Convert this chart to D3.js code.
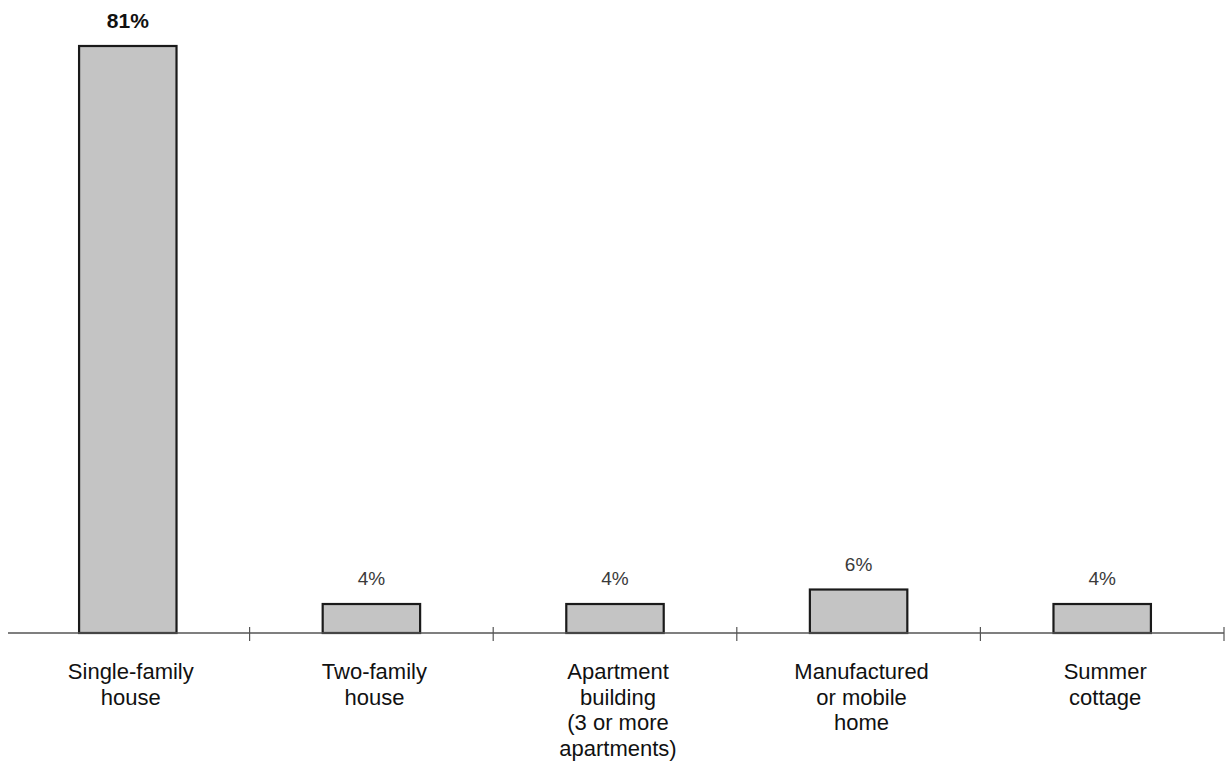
<!DOCTYPE html>
<html>
<head>
<meta charset="utf-8">
<script src="https://cdn.jsdelivr.net/npm/d3@7"></script>
<style>
  body { margin: 0; background: #fff; }
  svg { display: block; font-family: "Liberation Sans", Arial, sans-serif; }
</style>
</head>
<body>
<svg id="chart" width="1226" height="776"></svg>
<script>
let categories = [
    ["Single-family", "house"],
    ["Two-family", "house"],
    ["Apartment", "building", "(3 or more", "apartments)"],
    ["Manufactured", "or mobile", "home"],
    ["Summer", "cottage"]
];
let values = [81, 4, 4, 6, 4];
let value_labels = ["81%", "4%", "4%", "6%", "4%"];

let svg = d3.select("#chart");
let axis_y = 633;

let x = d3.scaleBand()
    .domain(d3.range(categories.length))
    .range([6, 1224])
    .paddingInner(0.6)
    .paddingOuter(0.3);

let y = d3.scaleLinear()
    .domain([0, 81])
    .range([axis_y, 46]);

let step = x.step();

// bars
svg.selectAll(".bar")
    .data(values)
    .enter().append("rect")
        .attr("class", "bar")
        .attr("x", (d, i) => x(i))
        .attr("y", d => y(d))
        .attr("width", x.bandwidth())
        .attr("height", d => y(0) - y(d))
        .attr("fill", "#c4c4c4")
        .attr("stroke", "#1a1a1a")
        .attr("stroke-width", 2.2);

// axis line, ticks sit on the category boundaries
svg.append("line")
    .attr("x1", 8).attr("x2", 1224)
    .attr("y1", axis_y).attr("y2", axis_y)
    .attr("stroke", "#555")
    .attr("stroke-width", 1.5);

svg.selectAll(".tick")
    .data(d3.range(1, categories.length + 1))
    .enter().append("line")
        .attr("class", "tick")
        .attr("x1", d => 6 + d * step)
        .attr("x2", d => 6 + d * step)
        .attr("y1", axis_y - 6)
        .attr("y2", axis_y + 8)
        .attr("stroke", "#555")
        .attr("stroke-width", 1.2);

// value labels
svg.selectAll(".val")
    .data(values)
    .enter().append("text")
        .attr("class", "val")
        .attr("x", (d, i) => x(i) + x.bandwidth() / 2)
        .attr("y", (d, i) => y(d) - (i === 0 ? 18 : 19))
        .attr("text-anchor", "middle")
        .attr("font-size", (d, i) => i === 0 ? "21px" : "19px")
        .attr("font-weight", (d, i) => i === 0 ? "bold" : "normal")
        .attr("fill", (d, i) => i === 0 ? "#111" : "#3a3a3a")
        .text((d, i) => value_labels[i]);

// category labels
let cat = svg.selectAll(".cat")
    .data(categories)
    .enter().append("text")
        .attr("class", "cat")
        .attr("text-anchor", "middle")
        .attr("font-size", "22px")
        .attr("fill", "#111");

cat.selectAll("tspan")
    .data((d, i) => d.map(line => ({line, i})))
    .enter().append("tspan")
        .attr("x", d => x(d.i) + x.bandwidth() / 2 + 3)
        .attr("y", (d, j) => 679 + j * 25.5)
        .text(d => d.line);
</script>
</body>
</html>
